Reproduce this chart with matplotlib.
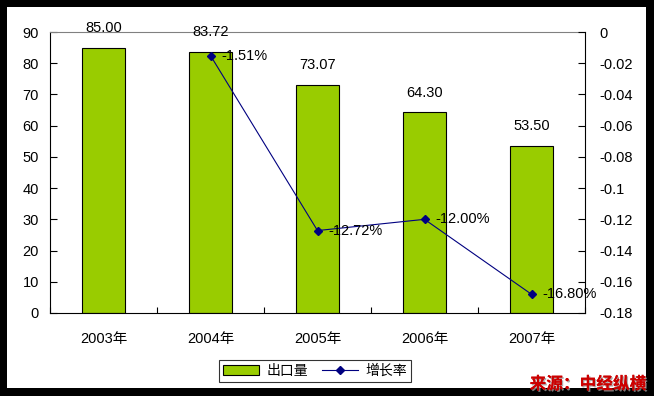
import matplotlib
matplotlib.use("Agg")
import matplotlib.pyplot as plt
import matplotlib.patheffects as pe
from matplotlib.patches import Rectangle
from matplotlib.lines import Line2D
from matplotlib.patches import Patch

plt.rcParams['font.family'] = ['Liberation Sans', 'Noto Sans CJK SC', 'DejaVu Sans']

years = ['2003年', '2004年', '2005年', '2006年', '2007年']
export_vol = [85.00, 83.72, 73.07, 64.30, 53.50]
rate_years = [1, 2, 3, 4]
growth = [-0.0151, -0.1272, -0.1200, -0.1680]
growth_labels = ['-1.51%', '-12.72%', '-12.00%', '-16.80%']

fig = plt.figure(figsize=(6.54, 3.96), dpi=100)
W, H = 654, 396

# black frame (left, top, right, bottom strips in pixels)
for (x0, y0, w, h) in [(0, 0, 7, H), (0, H - 7, W, 7), (W - 8, 0, 8, H), (0, 0, W, 8)]:
    fig.patches.append(Rectangle((x0 / W, y0 / H), w / W, h / H, transform=fig.transFigure,
                                 facecolor='black', edgecolor='none', zorder=0))

ax = fig.add_axes([50 / W, 1 - 313 / H, 535 / W, 281 / H])
x = list(range(len(years)))
ax.bar(x, export_vol, width=0.4, color='#99CC00', edgecolor='black', linewidth=0.8, zorder=2)
for xi, v in zip(x, export_vol):
    ax.annotate(f'{v:.2f}', (xi, v), xytext=(0, 9), textcoords='offset points',
                ha='center', va='bottom', fontsize=10.5)

ax.set_xlim(-0.5, 4.5)
ax.set_ylim(0, 90)
ax.set_yticks(range(0, 91, 10))
ax.set_xticks([i + 0.5 for i in range(-1, 5)], minor=False)
ax.set_xticklabels([])
ax.set_xticks(x, minor=True)
ax.set_xticklabels(years, minor=True)
ax.tick_params(axis='x', which='major', direction='in', length=4)
ax.tick_params(axis='x', which='minor', length=0, pad=14, labelsize=10.5)
ax.tick_params(axis='y', direction='in', length=5, pad=8, labelsize=10.5)
ax.spines['top'].set_color('#808080')
ax.spines['right'].set_visible(False)

ax2 = ax.twinx()
ax2.plot(rate_years, growth, color='#000080', linewidth=0.8, marker='D', markersize=4, zorder=3)
for xi, g, lab in zip(rate_years, growth, growth_labels):
    ax2.annotate(lab, (xi, g), xytext=(8, 0), textcoords='offset points',
                 ha='left', va='center', fontsize=10.5)
ax2.set_ylim(-0.18, 0)
ax2.set_yticks([-0.18, -0.16, -0.14, -0.12, -0.1, -0.08, -0.06, -0.04, -0.02, 0])
ax2.set_yticklabels(['-0.18', '-0.16', '-0.14', '-0.12', '-0.1', '-0.08', '-0.06', '-0.04', '-0.02', '0'])
ax2.tick_params(axis='y', direction='in', length=5, pad=10, labelsize=10.5)
for s in ['top', 'left', 'bottom']:
    ax2.spines[s].set_visible(False)

handles = [Patch(facecolor='#99CC00', edgecolor='black', linewidth=0.8),
           Line2D([], [], color='#000080', linewidth=0.8, marker='D', markersize=4)]
leg = fig.legend(handles, ['出口量', '增长率'], loc='center', bbox_to_anchor=(315 / W, 1 - 371 / H),
                 ncol=2, frameon=True, fancybox=False, edgecolor='black',
                 handlelength=2.6, handletextpad=0.5, columnspacing=1.0, borderpad=0.3,
                 prop={'family': ['Noto Sans CJK SC', 'DejaVu Sans'], 'size': 10})
leg.get_frame().set_linewidth(0.8)

fig.text(646 / W, 1 - 384 / H, '来源：中经纵横', ha='right', va='center', color='#CC0000',
         fontsize=12, fontweight='bold', family=['Noto Sans CJK SC'], zorder=5,
         path_effects=[pe.withSimplePatchShadow(offset=(1, -1), shadow_rgbFace='#999999', alpha=0.8),
                       pe.Normal()])

fig.savefig('out.png', dpi=100)
